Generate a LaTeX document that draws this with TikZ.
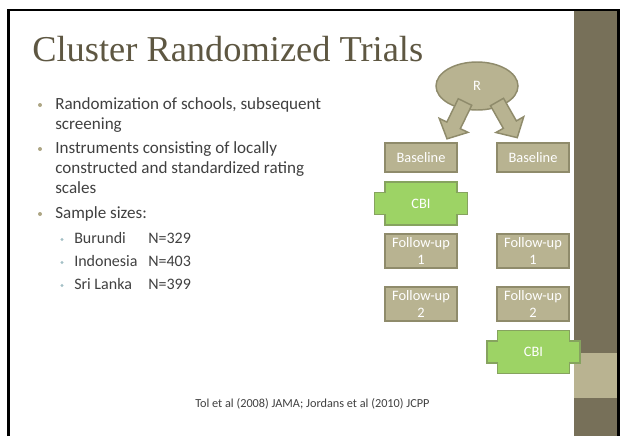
\documentclass[tikz,border=0pt]{standalone}
\usepackage{fontspec}
\setmainfont{Carlito}
\newfontfamily\titlefont{Liberation Serif}
\usepackage{tikz}
\usetikzlibrary{shapes.geometric}

\definecolor{titlecol}{HTML}{5E5742}
\definecolor{bardark}{HTML}{777059}
\definecolor{barlight}{HTML}{B9B391}
\definecolor{boxfill}{HTML}{B8B391}
\definecolor{boxline}{HTML}{8F8B6B}
\definecolor{cbifill}{HTML}{9DD365}
\definecolor{cbiline}{HTML}{86A35F}
\definecolor{bodytext}{HTML}{404040}
\definecolor{dotmain}{HTML}{ADA684}
\definecolor{dotsub}{HTML}{A4C0C6}

\tikzset{
  bodyline/.style={anchor=base west, inner sep=0pt, text=bodytext, font=\fontsize{12.8}{15}\selectfont},
  subline/.style={anchor=base west, inner sep=0pt, text=bodytext, font=\fontsize{12}{14}\selectfont},
  dotm/.style={circle, fill=dotmain, inner sep=0pt, minimum size=3pt},
  dots/.style={circle, fill=dotsub, inner sep=0pt, minimum size=2.6pt},
  stagebox/.style={draw=boxline, fill=boxfill, line width=1.1pt, text=white, inner sep=0pt,
    minimum width=54pt, align=center, font=\fontsize{10.8}{12.8}\selectfont},
  blockarrow/.style={draw=boxline, fill=boxfill, line width=1.1pt, line join=miter},
  cbishape/.style={draw=cbiline, fill=cbifill, line width=1.1pt},
  cbitext/.style={text=white, inner sep=0pt, font=\fontsize{10.8}{12.8}\selectfont}
}

% green intervention box with side tabs, centred at (#1,#2)
\newcommand{\cbioutline}[2]{%
  \draw[cbishape, shift={(#1,#2)}] (-36,-21.5) -- (36,-21.5) -- (36,-11) -- (46.5,-11) -- (46.5,11)
    -- (36,11) -- (36,21.5) -- (-36,21.5) -- (-36,11) -- (-46.5,11) -- (-46.5,-11) -- (-36,-11) -- cycle;}

\begin{document}
\begin{tikzpicture}[x=0.75pt,y=0.75pt,yscale=-1,xscale=1]
\path[use as bounding box] (0,0) rectangle (621,436);

%Side bar
\fill[bardark] (574,11) rectangle (618,436);
\fill[barlight] (574,353) rectangle (618,398);
%Frame
\draw[line width=2pt] (8.7,436) -- (8.7,10) -- (618.8,10) -- (618.8,436);

% Title
\node (title) [anchor=base west, inner sep=0pt, text=titlecol, font=\titlefont\fontsize{27.3}{30}\selectfont] at (32,61.5) {Cluster Randomized Trials};

% Bullets
\node (b1) [dotm] at (40,105) {};
\node (t1a) [bodyline] at (55,109) {Randomization of schools, subsequent};
\node (t1b) [bodyline] at (55,129) {screening};
\node (b2) [dotm] at (40,149) {};
\node (t2a) [bodyline] at (55,153) {Instruments consisting of locally};
\node (t2b) [bodyline] at (55,173) {constructed and standardized rating};
\node (t2c) [bodyline] at (55,193) {scales};
\node (b3) [dotm] at (40,214) {};
\node (t3) [bodyline] at (55,218) {Sample sizes:};
% Sub bullets
\node (s1) [dots] at (62,239.5) {};
\node (c1) [subline] at (74,243) {Burundi};
\node (n1) [subline] at (148,243) {N=329};
\node (s2) [dots] at (62,262.5) {};
\node (c2) [subline] at (74,266) {Indonesia};
\node (n2) [subline] at (148,266) {N=403};
\node (s3) [dots] at (62,285.5) {};
\node (c3) [subline] at (74,289) {Sri Lanka};
\node (n3) [subline] at (148,289) {N=399};

% Randomization
\node (rand) [ellipse, draw=boxline, fill=boxfill, line width=1.1pt, minimum width=61.5pt, minimum height=36pt,
  text=white, font=\fontsize{10.8}{12.8}\selectfont] at (477,86) {R};
%Block arrows
\draw[blockarrow, shift={(465,102)}, rotate=116] (0,-7.5) -- (26,-7.5) -- (26,-16) -- (41,0) -- (26,16) -- (26,7.5) -- (0,7.5) -- cycle;
\draw[blockarrow, shift={(497,102)}, rotate=60.4] (0,-7.5) -- (26,-7.5) -- (26,-16) -- (41,0) -- (26,16) -- (26,7.5) -- (0,7.5) -- cycle;

% Left arm
\node (baseL) [stagebox, minimum height=21.75pt] at (421,157.5) {Baseline};
\cbioutline{421}{203.5}
\node (cbiL) [cbitext] at (421,203.5) {CBI};
\node (fuL1) [stagebox, minimum height=25.5pt] at (421,251) {Follow-up\\1};
\node (fuL2) [stagebox, minimum height=25.5pt] at (421,304) {Follow-up\\2};

% Right arm
\node (baseR) [stagebox, minimum height=21.75pt] at (533,157.5) {Baseline};
\node (fuR1) [stagebox, minimum height=25.5pt] at (533,251) {Follow-up\\1};
\node (fuR2) [stagebox, minimum height=25.5pt] at (533,304) {Follow-up\\2};
\cbioutline{533.5}{352}
\node (cbiR) [cbitext] at (533.5,352) {CBI};

% Reference
\node (ref) [anchor=base west, inner sep=0pt, text=bodytext, font=\fontsize{9.2}{11}\selectfont] at (195,407) {Tol et al (2008) JAMA; Jordans et al (2010) JCPP};

\end{tikzpicture}
\end{document}
